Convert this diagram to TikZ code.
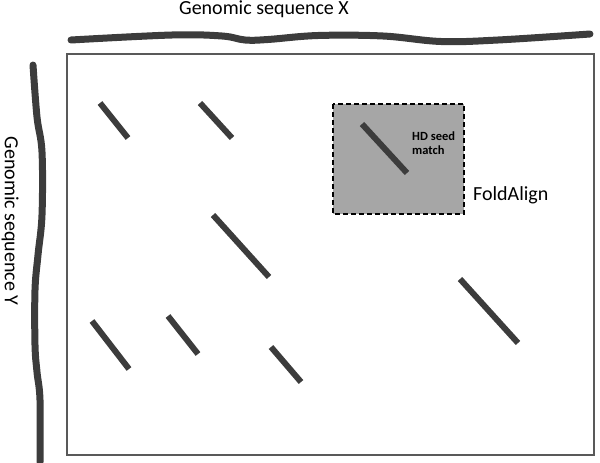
\documentclass[tikz,border=0pt]{standalone}
\usepackage{fontspec}
\setmainfont{Carlito}
\usepackage{tikz}
\usetikzlibrary{positioning}
\definecolor{hitgray}{HTML}{3C3C3C}
\definecolor{boxgray}{HTML}{A6A6A6}
\definecolor{framegray}{HTML}{595959}
\tikzstyle{seqline} = [line width=7pt, line cap=round, draw=hitgray]
\tikzstyle{hit} = [line width=6pt, draw=hitgray]
\tikzstyle{frame} = [draw=framegray, line width=1.3pt]
\tikzstyle{seedbox} = [draw=black, fill=boxgray, line width=1.5pt,
dash pattern=on 5pt off 3pt]
\tikzstyle{seqlabel} = [font=\fontsize{20}{24}\selectfont, inner sep=0pt]
\tikzstyle{seedlabel} = [font=\fontsize{12.5}{14}\selectfont\bfseries, inner
sep=0pt, anchor=base west]

\begin{document}
\begin{tikzpicture}[x=1pt, y=-1pt]
\useasboundingbox (0,0) rectangle (600,463);

\node(seqX)[seqlabel, anchor=base] at (264,14){Genomic sequence X};
\node(seqY)[seqlabel, anchor=base, rotate=-90] at (5,221){Genomic sequence Y};

\draw[seqline] plot[smooth, tension=0.6] coordinates {(71,40) (172,35)
(222,36) (245,40) (268,39.5) (318,35.5) (383,36) (441,41.5) (498,40) (590,34)};
\draw[seqline] plot[smooth, tension=0.6] coordinates {(33,65) (37,117)
(42,152) (42,215) (38,255) (35,290) (35,345) (37,372) (40,400)
(40,462)};

\draw[frame] (67,54) rectangle (594,455);

\draw[seedbox] (333,104) rectangle (464,214);

\draw[hit] (100,103) -- (128,138);
\draw[hit] (200,103) -- (232,138);
\draw[hit] (213,215) -- (269,277);
\draw[hit] (92,321) -- (129,369);
\draw[hit] (168,316) -- (198,354);
\draw[hit] (271,347) -- (301,382);
\draw[hit] (460,279) -- (518,343);
\draw[hit] (362,124) -- (407,173);

\node(seed)[seedlabel] at (412,140){HD seed};
\node(match)[seedlabel] at (412,154){match};
\node(fold)[seqlabel, anchor=base west] at (473,200){FoldAlign};

\end{tikzpicture}
\end{document}
